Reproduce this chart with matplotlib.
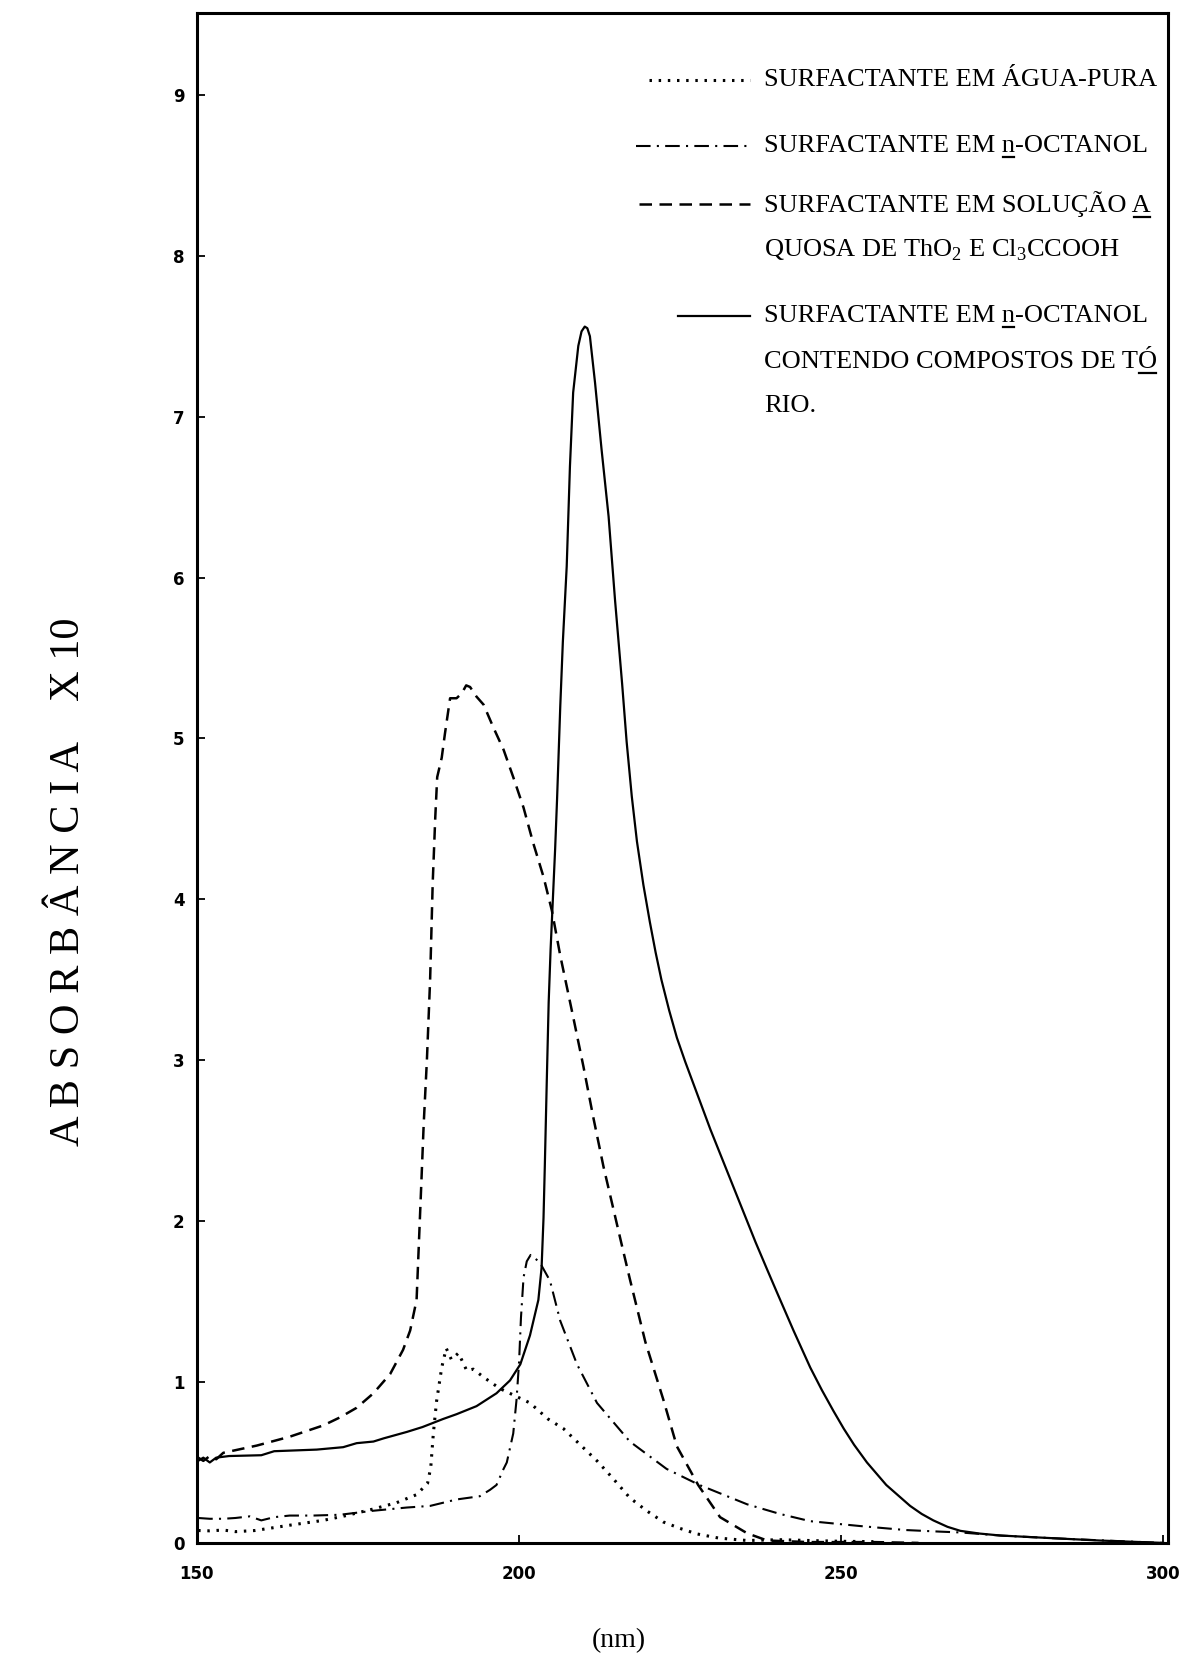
"""
Espectros de absorção UV do surfactante (150-300 nm)
Saída: out.png
"""

import matplotlib
matplotlib.use("Agg")
import matplotlib.pyplot as plt
from matplotlib.lines import Line2D

plt.rcParams["mathtext.fontset"] = "custom"
plt.rcParams["mathtext.rm"] = "Liberation Serif"

SERIF = ["Liberation Serif", "DejaVu Serif"]

# -----------------------------
# Dados
# -----------------------------
# surfactante em água pura (pontilhado)
agua_nm = [150.2, 152, 154.1, 156, 159, 164.4, 169.6, 173.2, 177.3, 181, 184.1,
           185.8, 186.3, 186.7, 187.2, 188, 188.7, 189.5, 190.6, 191.9, 192.9,
           194.5, 197, 199.6, 201.7, 204.5, 206.9, 209.5, 212.1, 214.6, 217.2,
           219.8, 222.4, 225, 227.6, 231, 235.4, 240.5, 245, 250, 255]
agua_abs = [0.077, 0.075, 0.08, 0.07, 0.077, 0.11, 0.14, 0.17, 0.21, 0.25, 0.30,
            0.37, 0.47, 0.68, 0.88, 1.09, 1.21, 1.14, 1.18, 1.07, 1.08,
            1.03, 0.96, 0.91, 0.87, 0.77, 0.71, 0.61, 0.51, 0.40, 0.28,
            0.20, 0.13, 0.09, 0.056, 0.03, 0.015, 0.02, 0.015, 0.01, 0.008]

# surfactante em n-octanol (traço-ponto)
octanol_nm = [150.2, 152, 154.1, 156, 158.2, 160, 162, 164.4, 168, 172.2, 177.4,
              182.6, 186.2, 190.3, 193.9, 195.5, 196.5, 197.6, 198.1, 199.1,
              199.6, 200.0, 200.3, 200.7, 201.2, 201.8, 203.2, 204.8, 206.4,
              209.0, 212.1, 217.2, 222.9, 228, 235.4, 240.5, 245.2, 252.9, 260,
              265.4, 268.5, 275, 285, 295, 300]
octanol_abs = [0.155, 0.15, 0.15, 0.155, 0.165, 0.14, 0.16, 0.17, 0.17, 0.175, 0.20,
               0.22, 0.23, 0.27, 0.29, 0.33, 0.36, 0.46, 0.50, 0.68,
               0.885, 1.12, 1.40, 1.65, 1.75, 1.79, 1.745, 1.63, 1.38,
               1.11, 0.87, 0.63, 0.46, 0.36, 0.24, 0.18, 0.135, 0.105, 0.08,
               0.07, 0.065, 0.045, 0.025, 0.008, 0.0]

# surfactante em solução aquosa de ThO2 e Cl3CCOOH (tracejado)
aquosa_nm = [150.2, 151, 152, 153, 154.1, 159.3, 164.4, 169.6, 172.2, 174.8, 177.4,
             180, 182, 183.1, 184.1, 184.8, 185.2, 185.7, 186.2, 186.6, 187.0,
             187.3, 188.0, 188.5, 189.3, 190.3, 191.1, 191.8, 192.4, 193.4,
             194.5, 196.0, 197.6, 199.1, 200.7, 202.2, 203.8, 205.1, 206.4,
             208.4, 210, 211.5, 213.1, 215.9, 217.2, 219.6, 222.4, 224.5, 227.8,
             231.2, 235.4, 238.5, 245, 255, 262]
aquosa_abs = [0.53, 0.51, 0.54, 0.52, 0.56, 0.605, 0.66, 0.73, 0.78, 0.84, 0.93,
              1.05, 1.20, 1.32, 1.51, 2.2, 2.6, 3.0, 3.5, 4.1, 4.51,
              4.76, 4.88, 5.03, 5.25, 5.25, 5.28, 5.33, 5.32, 5.26,
              5.21, 5.07, 4.93, 4.76, 4.57, 4.35, 4.14, 3.93, 3.65,
              3.27, 2.96, 2.65, 2.34, 1.86, 1.64, 1.25, 0.89, 0.60, 0.36,
              0.16, 0.06, 0.015, 0.005, 0.005, 0.0]

# surfactante em n-octanol contendo compostos de tório (contínuo)
torio_nm = [150.2, 151, 152, 153, 155, 160, 162, 168.6, 172.7, 174.8, 177.4, 179,
            182.6, 185, 188.2, 190.3, 193.4, 196.5, 198.6, 200.2, 201.7, 203.0,
            203.5, 203.8, 204.0, 204.3, 204.6, 204.9, 205.6, 205.9, 206.4,
            206.8, 207.4, 207.9, 208.4, 209.2, 209.7, 210.2, 210.6, 211.0,
            211.8, 212.8, 213.9, 214.9, 216.0, 216.7, 217.5, 218.3, 219.3,
            220.3, 221.2, 222.1, 223.3, 224.5, 225.8, 227.1, 228.4, 229.7,
            231.5, 233.3, 235, 236.7, 238.5, 240, 242.6, 245.2, 247, 248.8,
            250.4, 252, 254, 257, 260.7, 262.5, 264.3, 266.5, 268.5, 271.5,
            274.7, 280, 285, 290, 295.3, 300]
torio_abs = [0.51, 0.53, 0.50, 0.53, 0.54, 0.545, 0.57, 0.58, 0.595, 0.62, 0.63, 0.65,
             0.69, 0.72, 0.77, 0.80, 0.85, 0.93, 1.01, 1.11, 1.29, 1.51,
             1.71, 2.02, 2.34, 2.86, 3.36, 3.69, 4.31, 4.62, 5.2,
             5.6, 6.07, 6.69, 7.15, 7.44, 7.53, 7.56, 7.55, 7.50,
             7.21, 6.80, 6.38, 5.86, 5.34, 4.98, 4.64, 4.36, 4.09,
             3.86, 3.67, 3.50, 3.31, 3.14, 2.99, 2.85, 2.71, 2.57,
             2.39, 2.21, 2.04, 1.87, 1.70, 1.56, 1.32, 1.09, 0.95, 0.82,
             0.71, 0.61, 0.50, 0.36, 0.23, 0.18, 0.14, 0.10, 0.075, 0.058,
             0.046, 0.035, 0.025, 0.015, 0.007, 0.0]

x_ticks = [150, 200, 250, 300]
y_ticks = [0, 1, 2, 3, 4, 5, 6, 7, 8, 9]

legend_lines = [
    ["SURFACTANTE EM ÁGUA-PURA"],
    ["SURFACTANTE EM n-OCTANOL"],
    ["SURFACTANTE EM SOLUÇÃO A",
     r"QUOSA DE ThO$_{\mathrm{2}}$ E Cl$_{\mathrm{3}}$CCOOH"],
    ["SURFACTANTE EM n-OCTANOL",
     "CONTENDO COMPOSTOS DE TÓ",
     "RIO."],
]
# (entrada, linha, letra sublinhada)
underlined = [(1, 0, 15), (2, 0, 23), (3, 0, 15), (3, 1, 23)]

# -----------------------------
# Estilos
# -----------------------------
DOTTED = (0, (0.8, 2.2))
DASHDOT = (0, (7, 3, 1, 3))
DASHED = (0, (5, 3))

fig = plt.figure(figsize=(11.86, 16.70), dpi=100)
ax = fig.add_axes([0.166, 0.0761, 0.8187, 0.9162])

ax.plot(agua_nm, agua_abs, color="black", lw=2.2, linestyle=DOTTED)
ax.plot(octanol_nm, octanol_abs, color="black", lw=1.5, linestyle=DASHDOT)
ax.plot(aquosa_nm, aquosa_abs, color="black", lw=1.8, linestyle=DASHED)
ax.plot(torio_nm, torio_abs, color="black", lw=1.6, linestyle="-")

ax.set_xlim(150, 300.7)
ax.set_ylim(0, 9.51)
ax.set_xticks(x_ticks)
ax.set_yticks(y_ticks)
ax.tick_params(direction="in", length=6, width=1.3)
ax.tick_params(axis="x", pad=16)
ax.tick_params(axis="y", pad=9)
for lab in ax.get_xticklabels() + ax.get_yticklabels():
    lab.set_fontweight("bold")
    lab.set_fontsize(12)
for sp in ax.spines.values():
    sp.set_linewidth(2.2)

# -----------------------------
# Legenda desenhada à mão
# -----------------------------
text_x = 0.584
row_y = [[0.956], [0.913], [0.875, 0.845], [0.802, 0.772, 0.743]]
sample_x = [(0.466, 0.570), (0.452, 0.570), (0.455, 0.570), (0.495, 0.570)]
sample_style = [(DOTTED, 2.2), (DASHDOT, 1.5), (DASHED, 1.8), ("-", 1.6)]

texts = {}
for i, (lines, ys, (x0, x1), (ls, lw)) in enumerate(
        zip(legend_lines, row_y, sample_x, sample_style)):
    ax.plot([x0, x1], [ys[0], ys[0]], transform=ax.transAxes, color="black",
            linestyle=ls, lw=lw, clip_on=False)
    for j, (line, y) in enumerate(zip(lines, ys)):
        texts[(i, j)] = ax.text(text_x, y, line, transform=ax.transAxes,
                                ha="left", va="center", fontsize=19, family=SERIF)

# sublinhados (letras da máquina de escrever)
fig.canvas.draw()
renderer = fig.canvas.get_renderer()
W, H = fig.bbox.width, fig.bbox.height
for i, j, k in underlined:
    t = texts[(i, j)]
    s = t.get_text()
    prop = t.get_fontproperties()
    bb = t.get_window_extent(renderer)
    w0 = renderer.get_text_width_height_descent(s[:k], prop, ismath=False)[0]
    w1 = renderer.get_text_width_height_descent(s[:k + 1], prop, ismath=False)[0]
    d = renderer.get_text_width_height_descent("lp", prop, ismath=False)[2]
    yl = bb.y0 + d - 5
    fig.add_artist(Line2D([(bb.x0 + w0 + 1) / W, (bb.x0 + w1 - 1) / W],
                          [yl / H, yl / H], transform=fig.transFigure,
                          color="black", lw=1.6))

fig.text(0.058, 0.472, "A B S O R B Â N C I A    X 10", rotation=90,
         ha="center", va="center", fontsize=30.5, family=SERIF)
fig.text(0.522, 0.010, "(nm)", ha="center", va="bottom", fontsize=20, family=SERIF)

fig.savefig("out.png", dpi=100)
plt.close(fig)
